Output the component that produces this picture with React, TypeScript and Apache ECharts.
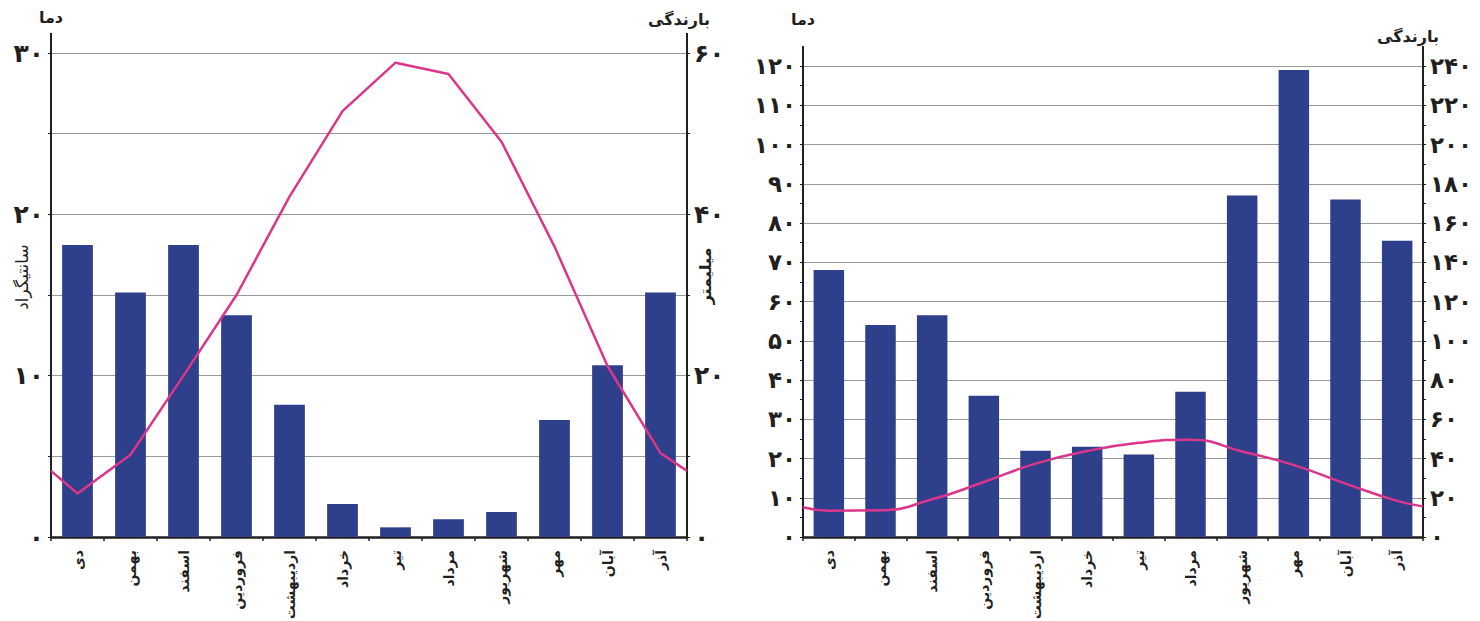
import React, { useEffect, useRef } from "react";
import * as echarts from "echarts";

const months = ["دی", "بهمن", "اسفند", "فروردین", "اردیبهشت", "خرداد", "تیر", "مرداد", "شهریور", "مهر", "آبان", "آذر"];

// Left climograph
const leftPrecip = [36.2, 30.3, 36.2, 27.5, 16.4, 4.1, 1.2, 2.2, 3.1, 14.5, 21.3, 30.3];
const leftTemp = [2.7, 5.1, 10.0, 15.0, 21.1, 26.4, 29.4, 28.7, 24.5, 18.0, 10.6, 5.2];
const leftTempEdges = [4.1, 4.1];

// Right climograph
const rightPrecip = [136, 108, 113, 72, 44, 46, 42, 74, 174, 238, 172, 151];
const rightTemp = [6.7, 6.8, 9.6, 14.0, 18.7, 21.9, 24.0, 24.8, 21.8, 18.3, 13.6, 9.2];
const rightTempEdges = [7.6, 7.8];

// Tick labels
const leftTempTicks = [0, 10, 20, 30];
const leftTempLabels = ["۰", "۱۰", "۲۰", "۳۰"];
const leftPrecipTicks = [0, 20, 40, 60];
const leftPrecipLabels = ["۰", "۲۰", "۴۰", "۶۰"];
const rightTempTicks = [0, 10, 20, 30, 40, 50, 60, 70, 80, 90, 100, 110, 120];
const rightTempLabels = ["۰", "۱۰", "۲۰", "۳۰", "۴۰", "۵۰", "۶۰", "۷۰", "۸۰", "۹۰", "۱۰۰", "۱۱۰", "۱۲۰"];
const rightPrecipTicks = [0, 20, 40, 60, 80, 100, 120, 140, 160, 180, 200, 220, 240];
const rightPrecipLabels = ["۰", "۲۰", "۴۰", "۶۰", "۸۰", "۱۰۰", "۱۲۰", "۱۴۰", "۱۶۰", "۱۸۰", "۲۰۰", "۲۲۰", "۲۴۰"];

const FONT = "DejaVu Sans";
const AXIS = "#231f20";
const BAR = "#2e3f8b";
const LINE = "#dc358c";
const GRID = "#9a9a9a";

function lineData(temps: number[], edges: number[]) {
  const pts: number[][] = [[0, edges[0]]];
  temps.forEach((t, i) => pts.push([i + 0.5, t]));
  pts.push([temps.length, edges[1]]);
  return pts;
}

function fmt(ticks: number[], labels: string[]) {
  return (v: number) => {
    const i = ticks.indexOf(Math.round(v * 1000) / 1000);
    return i >= 0 ? labels[i] : "";
  };
}

function catAxis(gridIndex: number) {
  return {
    type: "category",
    gridIndex,
    data: months,
    boundaryGap: true,
    axisLine: { show: true, lineStyle: { color: AXIS, width: 2.5 } },
    axisTick: { show: true, alignWithLabel: false, length: 4, lineStyle: { color: AXIS, width: 1.5 } },
    axisLabel: {
      rotate: 90,
      interval: 0,
      margin: 13,
      fontSize: 14,
      fontWeight: "bold",
      color: "#231f20",
      fontFamily: FONT,
    },
    splitLine: { show: false },
  };
}

function hiddenValX(gridIndex: number) {
  return { type: "value", gridIndex, min: 0, max: 12, show: false };
}

export default function App() {
  const ref = useRef<HTMLDivElement>(null);
  useEffect(() => {
    if (!ref.current) return;
    const chart = echarts.init(ref.current, null, { renderer: "svg" });
    const yLabel = { fontSize: 25, fontWeight: "bold", color: "#231f20", fontFamily: FONT, margin: 7 };
    const axisLine = { show: true, lineStyle: { color: AXIS, width: 2 } };
    const titleStyle = (size: number, bold = true) => ({ fill: "#231f20", fontSize: size, fontWeight: bold ? "bold" : "normal", fontFamily: FONT, align: "center", verticalAlign: "middle" });
    const vline = (x: number, y1: number, y2: number) => ({
      type: "line",
      shape: { x1: x, y1, x2: x, y2 },
      style: { stroke: AXIS, lineWidth: 2 },
      silent: true,
    });
    chart.setOption({
      animation: false,
      backgroundColor: "#ffffff",
      textStyle: { fontFamily: FONT },
      grid: [
        { left: 51, top: 53, width: 636, height: 484, containLabel: false, outerBoundsMode: "none" },
        { left: 803, top: 66, width: 620, height: 471, containLabel: false, outerBoundsMode: "none" },
      ],
      xAxis: [catAxis(0), hiddenValX(0), catAxis(1), hiddenValX(1)],
      yAxis: [
        {
          type: "value", gridIndex: 0, position: "left", min: 0, max: 30, interval: 5,
          axisLine, axisTick: { show: true, length: 3, lineStyle: { color: AXIS } },
          axisLabel: { ...yLabel, formatter: fmt(leftTempTicks, leftTempLabels) },
          splitLine: { show: true, lineStyle: { color: GRID, width: 1 } },
        },
        {
          type: "value", gridIndex: 0, position: "right", min: 0, max: 60, interval: 10,
          axisLine, axisTick: { show: true, length: 3, lineStyle: { color: AXIS } },
          axisLabel: { ...yLabel, formatter: fmt(leftPrecipTicks, leftPrecipLabels) },
          splitLine: { show: false },
        },
        {
          type: "value", gridIndex: 1, position: "left", min: 0, max: 120, interval: 10,
          axisLine, axisTick: { show: true, length: 3, lineStyle: { color: AXIS } },
          minorTick: { show: true, splitNumber: 2, length: 3, lineStyle: { color: AXIS } },
          axisLabel: { ...yLabel, fontSize: 23, formatter: fmt(rightTempTicks, rightTempLabels) },
          splitLine: { show: true, lineStyle: { color: GRID, width: 1 } },
        },
        {
          type: "value", gridIndex: 1, position: "right", min: 0, max: 240, interval: 20,
          axisLine, axisTick: { show: true, length: 3, lineStyle: { color: AXIS } },
          minorTick: { show: true, splitNumber: 2, length: 3, lineStyle: { color: AXIS } },
          axisLabel: { ...yLabel, fontSize: 23, formatter: fmt(rightPrecipTicks, rightPrecipLabels) },
          splitLine: { show: false },
        },
      ],
      series: [
        {
          type: "bar", xAxisIndex: 0, yAxisIndex: 1, data: leftPrecip, barWidth: "58%",
          itemStyle: { color: BAR }, z: 2,
        },
        {
          type: "line", xAxisIndex: 1, yAxisIndex: 0, data: lineData(leftTemp, leftTempEdges),
          showSymbol: false, symbol: "none", lineStyle: { color: LINE, width: 2.5 }, z: 5,
        },
        {
          type: "bar", xAxisIndex: 2, yAxisIndex: 3, data: rightPrecip, barWidth: "59%",
          itemStyle: { color: BAR }, z: 2,
        },
        {
          type: "line", xAxisIndex: 3, yAxisIndex: 2, data: lineData(rightTemp, rightTempEdges),
          smooth: 0.5, showSymbol: false, symbol: "none", lineStyle: { color: LINE, width: 2.5 }, z: 5,
        },
      ],
      graphic: [
        vline(51, 33, 54),
        vline(687, 33, 54),
        vline(803, 46, 67),
        vline(1423, 46, 67),
        { type: "text", x: 51, y: 17, style: { text: "دما", ...titleStyle(16) } },
        { type: "text", x: 679, y: 19, style: { text: "بارندگی", ...titleStyle(16) } },
        { type: "text", x: 22, y: 277, rotation: Math.PI / 2, style: { text: "سانتیگراد", ...titleStyle(17, false) } },
        { type: "text", x: 705, y: 276, rotation: Math.PI / 2, style: { text: "میلیمتر", ...titleStyle(16) } },
        { type: "text", x: 803, y: 19, style: { text: "دما", ...titleStyle(16) } },
        { type: "text", x: 1408, y: 36, style: { text: "بارندگی", ...titleStyle(16) } },
      ],
    });
    return () => chart.dispose();
  }, []);
  return (
    <div
      ref={ref}
      style={{ position: "fixed", left: 0, top: 0, width: 1480, height: 621, background: "#fff" }}
    />
  );
}
